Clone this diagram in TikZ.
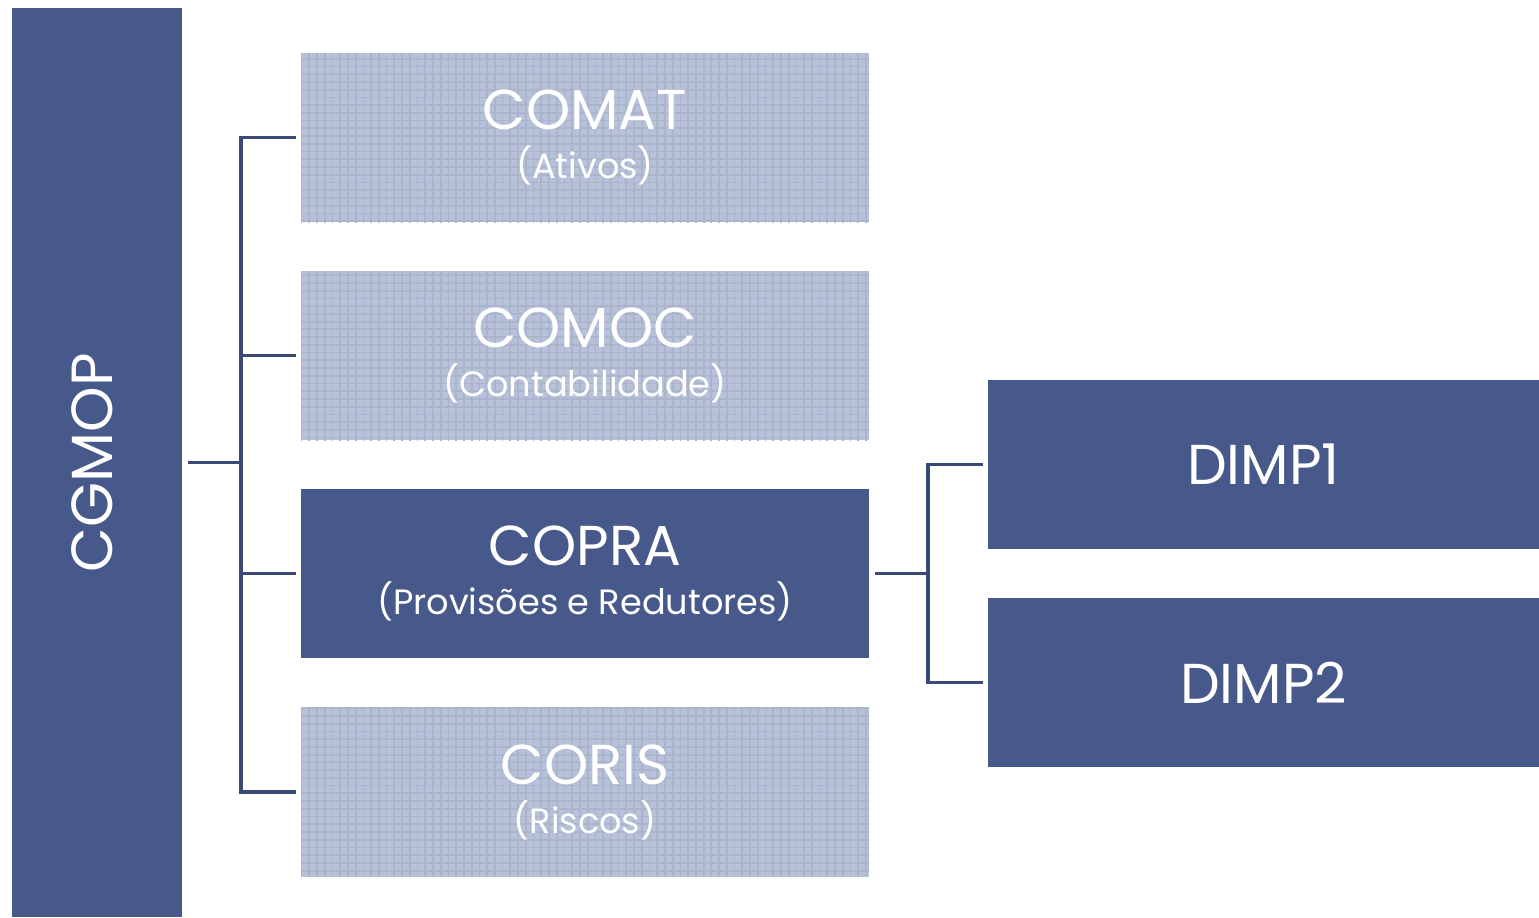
\documentclass[tikz,border=0pt]{standalone}
\usepackage{fontspec}
\setmainfont{Poppins}
\usetikzlibrary{patterns.meta}
\definecolor{unitblue}{RGB}{71,89,139}
\definecolor{lineblue}{RGB}{58,74,117}
\definecolor{hatchblue}{RGB}{184,193,218}
\tikzset{
  unit/.style={draw=none, fill=unitblue, text=white, align=center, inner sep=0pt,
    minimum width=5.68cm, minimum height=1.69cm, font=\fontsize{16}{18}\selectfont},
  faded/.style={unit, fill=hatchblue,
    postaction={pattern={Lines[angle=0, distance=2.2pt, line width=0.5pt]}, pattern color=unitblue!45},
    postaction={pattern={Lines[angle=90, distance=2.2pt, line width=0.5pt]}, pattern color=unitblue!45}},
  conn/.style={draw=lineblue, line width=0.9pt}
}
\newcommand{\subline}[1]{{\fontsize{10}{12}\selectfont #1}}

\begin{document}
\begin{tikzpicture}[x=1cm, y=-1cm]
		%%%%% START %%%%%
		\useasboundingbox (0, 0) rectangle (15.39, 9.17);
		
		\node[unit, minimum width=1.70cm, minimum height=9.09cm] (cgmop) at (0.97, 4.625)
		  {\hspace*{-0.1cm}\rotatebox{90}{\fontsize{16.5}{18}\selectfont CGMOP}};
		
		\node[faded] (comat) at (5.85, 1.375) {COMAT\\[-4pt]\subline{(Ativos)}};
		\node[faded] (comoc) at (5.85, 3.555) {COMOC\\[-4pt]\subline{(Contabilidade)}};
		\node[unit] (copra) at (5.85, 5.735) {COPRA\\[-4pt]\subline{(Provisões e Redutores)}};
		\node[faded] (coris) at (5.85, 7.92) {CORIS\\[-4pt]\subline{(Riscos)}};
		
		\node[unit, minimum width=5.51cm] (dimp1) at (12.635, 4.645) {DIMP1};
		\node[unit, minimum width=5.51cm] (dimp2) at (12.635, 6.825) {DIMP2};
		
		\coordinate (trunk) at (2.41, 4.625);
		\coordinate (trunkb) at (9.28, 5.735);
		
		\draw[conn, shorten <=0.05cm] (cgmop.east) -- (trunk);
		\foreach \child in {comat, comoc, copra, coris}
		  \draw[conn, shorten >=0.04cm] (trunk) |- (\child.west);
		
		\draw[conn, shorten <=0.05cm] (copra.east) -- (trunkb);
		\foreach \child in {dimp1, dimp2}
		  \draw[conn, shorten >=0.04cm] (trunkb) |- (\child.west);
		%%%%% END %%%%%
	\end{tikzpicture}
\end{document}
